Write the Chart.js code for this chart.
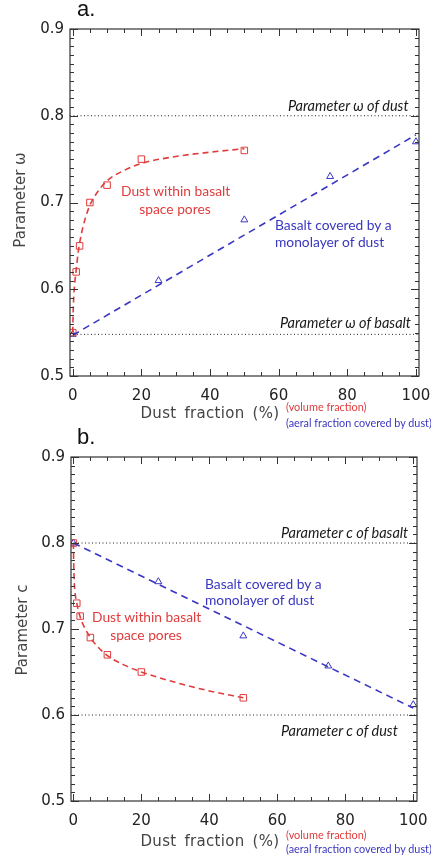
<!DOCTYPE html>
<html><head><meta charset="utf-8">
<script src="https://cdn.jsdelivr.net/npm/chart.js@4.4.1/dist/chart.umd.min.js"></script>
<style>
html,body{margin:0;padding:0;background:#fff;}
body{width:431px;height:858px;overflow:hidden;position:relative;}
canvas{position:absolute;left:0;}
.t{position:absolute;white-space:nowrap;line-height:1;transform:translateY(-50%);}
.c{transform:translate(-50%,-50%);}
.panel{font-family:"Liberation Sans",Arial,sans-serif;font-size:22px;color:#111;}
.ref{font-family:Lato,"Open Sans",sans-serif;font-style:italic;font-size:14.5px;color:#1a1a1a;}
.red{font-family:Lato,"Open Sans",sans-serif;font-size:13.8px;color:#e03c3c;}
.blue{font-family:Lato,"Open Sans",sans-serif;font-size:13.8px;color:#3a37bf;}
.sred{font-family:Lato,"Open Sans",sans-serif;font-size:10.9px;color:#e03c3c;}
.sblue{font-family:Lato,"Open Sans",sans-serif;font-size:10.8px;color:#3a37bf;}
.xt{font-family:"DejaVu Sans",sans-serif;font-size:15px;color:#444;letter-spacing:0.3px;word-spacing:3px;}
.yt{font-family:"DejaVu Sans",sans-serif;font-size:15px;color:#444;transform:translate(-50%,-50%) rotate(-90deg);}
</style></head><body>
<canvas id="ca" width="431" height="430" style="top:0px"></canvas>
<canvas id="cb" width="431" height="428" style="top:430px"></canvas>
<div id="labels"></div>
<script>
// ---------- tick labels ----------
const X_TICKS = [0, 20, 40, 60, 80, 100];
const Y_TICKS = [0.5, 0.6, 0.7, 0.8, 0.9];

// ---------- panel a: parameter omega ----------
const A_RED_X = [0, 1, 2, 5, 10, 20, 50];
const A_RED_Y = [0.550, 0.620, 0.650, 0.700, 0.720, 0.750, 0.760];
const A_BLUE_X = [0, 25, 50, 75, 100];
const A_BLUE_Y = [0.548, 0.610, 0.680, 0.730, 0.770];
const A_RED_FIT_X = [0, 0.1, 0.3, 0.6, 1, 1.5, 2, 3, 4, 5, 7, 10, 15, 20, 30, 40, 50];
const A_RED_FIT_Y = [0.550, 0.570, 0.592, 0.608, 0.622, 0.640, 0.653, 0.672, 0.686, 0.697, 0.711, 0.725, 0.737, 0.745, 0.753, 0.758, 0.762];
const A_BLUE_FIT_X = [0, 100];
const A_BLUE_FIT_Y = [0.547, 0.778];
const A_REF_LINES = [0.800, 0.548];

// ---------- panel b: parameter c ----------
const B_RED_X = [0, 1, 2, 5, 10, 20, 50];
const B_RED_Y = [0.800, 0.730, 0.715, 0.690, 0.670, 0.650, 0.620];
const B_BLUE_X = [0, 25, 50, 75, 100];
const B_BLUE_Y = [0.800, 0.755, 0.692, 0.657, 0.612];
const B_RED_FIT_X = [0, 0.1, 0.25, 0.5, 1, 1.5, 2, 3, 5, 7, 10, 15, 20, 30, 40, 50];
const B_RED_FIT_Y = [0.800, 0.775, 0.755, 0.742, 0.730, 0.721, 0.714, 0.704, 0.690, 0.680, 0.669, 0.658, 0.650, 0.638, 0.628, 0.620];
const B_BLUE_FIT_X = [0, 100];
const B_BLUE_FIT_Y = [0.800, 0.608];
const B_REF_LINES = [0.800, 0.600];

const RED = '#e03c3c', BLUE = '#3a37c2', INK = '#333';

function xy(xs, ys) { return xs.map((x, i) => ({ x: x, y: ys[i] })); }

const frame = {
  id: 'frame',
  afterDraw(chart) {
    const { ctx, chartArea: a, scales: { x, y } } = chart;
    ctx.save();
    ctx.strokeStyle = INK;
    ctx.lineWidth = 1.2;
    ctx.strokeRect(a.left, a.top, a.right - a.left, a.bottom - a.top);
    ctx.beginPath();
    for (let v = 0; v <= 100; v += 5) {
      const px = Math.round(x.getPixelForValue(v)) + 0.5;
      const L = v % 20 === 0 ? 7 : 4;
      ctx.moveTo(px, a.bottom); ctx.lineTo(px, a.bottom - L);
      ctx.moveTo(px, a.top); ctx.lineTo(px, a.top + L);
    }
    for (let i = 50; i <= 90; i++) {
      const py = Math.round(y.getPixelForValue(i / 100)) + 0.5;
      const L = i % 10 === 0 ? 8 : 4;
      ctx.moveTo(a.left, py); ctx.lineTo(a.left + L, py);
      ctx.moveTo(a.right, py); ctx.lineTo(a.right - L, py);
    }
    ctx.lineWidth = 1;
    ctx.stroke();
    ctx.restore();
  }
};

function build(id, d, geo) {
  const hline = v => [{ x: geo.xmin, y: v }, { x: geo.xmax, y: v }];
  const ds = [];
  d.refs.forEach(v => ds.push({ data: hline(v), showLine: true, borderColor: '#222', borderWidth: 1, borderDash: [1, 2.5], pointRadius: 0 }));
  ds.push({ data: xy(d.rfx, d.rfy), showLine: true, borderColor: RED, borderWidth: 1.6, borderDash: [6, 4], pointRadius: 0, cubicInterpolationMode: 'monotone' });
  ds.push({ data: xy(d.bfx, d.bfy), showLine: true, borderColor: BLUE, borderWidth: 1.6, borderDash: [7, 5], pointRadius: 0 });
  ds.push({ data: xy(d.rx, d.ry), showLine: false, pointStyle: 'rect', pointRadius: 4.6, borderColor: RED, backgroundColor: 'rgba(0,0,0,0)', pointBorderWidth: 1 });
  ds.push({ data: xy(d.bx, d.by), showLine: false, pointStyle: 'triangle', pointRadius: 4, borderColor: BLUE, backgroundColor: 'rgba(0,0,0,0)', pointBorderWidth: 1 });
  const tickFont = { family: 'DejaVu Sans', size: 15 };
  return new Chart(document.getElementById(id), {
    type: 'scatter',
    data: { datasets: ds },
    options: {
      responsive: false, animation: false, devicePixelRatio: 1,
      layout: { padding: { top: geo.top, right: geo.right, left: 0, bottom: 0 } },
      plugins: { legend: { display: false }, tooltip: { enabled: false } },
      scales: {
        x: {
          type: 'linear', min: geo.xmin, max: geo.xmax,
          afterBuildTicks: s => { s.ticks = X_TICKS.map(v => ({ value: v })); },
          afterFit: s => { s.height = geo.xh; s.paddingLeft = 0; s.paddingRight = 0; },
          grid: { display: false, drawTicks: false }, border: { display: false },
          ticks: { padding: 11, font: tickFont, color: '#222', maxRotation: 0, autoSkip: false }
        },
        y: {
          type: 'linear', min: 0.5, max: 0.9,
          afterBuildTicks: s => { s.ticks = Y_TICKS.map(v => ({ value: v })); },
          afterFit: s => { s.width = geo.yw; s.paddingTop = 0; s.paddingBottom = 0; },
          grid: { display: false, drawTicks: false }, border: { display: false },
          ticks: { padding: 6, font: tickFont, color: '#222', callback: v => Number(v).toFixed(1) }
        }
      }
    },
    plugins: [frame]
  });
}

build('ca', { refs: A_REF_LINES, rfx: A_RED_FIT_X, rfy: A_RED_FIT_Y, bfx: A_BLUE_FIT_X, bfy: A_BLUE_FIT_Y, rx: A_RED_X, ry: A_RED_Y, bx: A_BLUE_X, by: A_BLUE_Y },
  { xmin: -0.8, xmax: 100.9, top: 29, right: 12, xh: 54, yw: 70 });
build('cb', { refs: B_REF_LINES, rfx: B_RED_FIT_X, rfy: B_RED_FIT_Y, bfx: B_BLUE_FIT_X, bfy: B_BLUE_FIT_Y, rx: B_RED_X, ry: B_RED_Y, bx: B_BLUE_X, by: B_BLUE_Y },
  { xmin: -0.7, xmax: 101.1, top: 27, right: 14, xh: 57, yw: 71 });

// ---------- text (layout positions in page pixels) ----------
const TEXTS = [
  ['a.', 'panel', 77, 9, false],
  ['Parameter ω of dust', 'ref', 288, 106, false],
  ['Parameter ω of basalt', 'ref', 280, 323, false],
  ['Dust within basalt', 'red', 121, 191, false],
  ['space pores', 'red', 175, 209, true],
  ['Basalt covered by a', 'blue', 275, 225, false],
  ['monolayer of dust', 'blue', 275, 242, false],
  ['Parameter ω', 'yt', 20, 200, true],
  ['Dust fraction (%)', 'xt', 210, 413, true],
  ['(volume fraction)', 'sred', 286, 407, false],
  ['(aeral fraction covered by dust)', 'sblue', 286, 423, false],
  ['b.', 'panel', 77, 437, false],
  ['Parameter c of basalt', 'ref', 281, 533, false],
  ['Parameter c of dust', 'ref', 281, 731, false],
  ['Basalt covered by a', 'blue', 205, 584, false],
  ['monolayer of dust', 'blue', 205, 600, false],
  ['Dust within basalt', 'red', 92, 617, false],
  ['space pores', 'red', 146, 635, true],
  ['Parameter c', 'yt', 22, 630, true],
  ['Dust fraction (%)', 'xt', 210, 841, true],
  ['(volume fraction)', 'sred', 286, 835, false],
  ['(aeral fraction covered by dust)', 'sblue', 286, 849, false]
];
const holder = document.getElementById('labels');
TEXTS.forEach(([txt, cls, x, y, center]) => {
  const el = document.createElement('div');
  el.className = 't ' + cls + (center && cls !== 'yt' ? ' c' : '');
  el.textContent = txt;
  el.style.left = x + 'px';
  el.style.top = y + 'px';
  holder.appendChild(el);
});
</script>
</body></html>
